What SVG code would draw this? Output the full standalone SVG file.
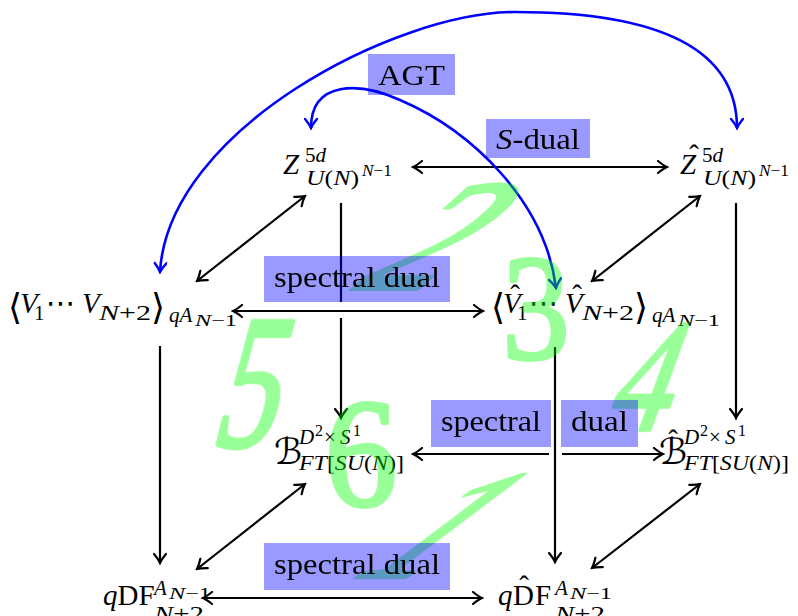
<svg xmlns="http://www.w3.org/2000/svg" width="798" height="616" viewBox="0 0 798 616">
<defs>
<marker id="a" viewBox="-11 -7 13 14" refX="0" refY="0" markerWidth="13" markerHeight="14" markerUnits="userSpaceOnUse" orient="auto-start-reverse">
<path d="M-9,-6 Q-3.5,-1.5 0,0 Q-3.5,1.5 -9,6" fill="none" stroke="#000" stroke-width="2.2" stroke-linecap="round"/>
</marker>
<marker id="ab" viewBox="-11 -7 13 14" refX="0" refY="0" markerWidth="13" markerHeight="14" markerUnits="userSpaceOnUse" orient="auto-start-reverse">
<path d="M-9,-6 Q-3.5,-1.5 0,0 Q-3.5,1.5 -9,6" fill="none" stroke="#0000ff" stroke-width="2.4" stroke-linecap="round"/>
</marker>
<style>
.ln{fill:none;stroke:#000;stroke-width:2.2}
.bl{fill:none;stroke:#0000ff;stroke-width:2.6}
.m{font-family:"Liberation Serif",serif;font-size:29px;fill:#000}
.s{font-size:21px}
.ss{font-size:16px}
.i{font-style:italic}
.sym{font-family:"DejaVu Serif","DejaVu Sans",serif}
.br{font-size:36px}
.cal{font-size:36px}
.hat{font-family:"Liberation Serif",serif;font-size:29px;text-anchor:middle}
.box{fill:#0000ff;fill-opacity:0.4}
.lab{font-family:"Liberation Serif",serif;font-size:30px;text-anchor:middle;fill:#000}
.g{font-family:"Liberation Serif",serif;font-size:100px;fill:#00ff00;stroke:#00ff00;stroke-width:2.5;stroke-linejoin:round;text-anchor:middle}
</style>
</defs>
<rect width="798" height="616" fill="#fff"/>

<g id="connectors">
<path class="ln" d="M413,167H667" marker-start="url(#a)" marker-end="url(#a)"/>
<path class="ln" d="M305,196L197,281" marker-start="url(#a)" marker-end="url(#a)"/>
<path class="ln" d="M700,196L592,281" marker-start="url(#a)" marker-end="url(#a)"/>
<path class="ln" d="M233,311H483" marker-start="url(#a)" marker-end="url(#a)"/>
<path class="ln" d="M341,203V302"/>
<path class="ln" d="M341,318V418" marker-end="url(#a)"/>
<path class="ln" d="M736,203V418" marker-end="url(#a)"/>
<path class="ln" d="M160,346V563" marker-end="url(#a)"/>
<path class="ln" d="M555,347V562" marker-end="url(#a)"/>
<path class="ln" d="M549,454H413" marker-end="url(#a)"/>
<path class="ln" d="M562,454H663" marker-end="url(#a)"/>
<path class="ln" d="M305,484L197,569" marker-start="url(#a)" marker-end="url(#a)"/>
<path class="ln" d="M700,484L592,568" marker-start="url(#a)" marker-end="url(#a)"/>
<path class="ln" d="M203,598H482" marker-start="url(#a)" marker-end="url(#a)"/>
<path class="bl" d="M160,272C168,130 395,12 515,12C640,12 737,40 737,128" marker-start="url(#ab)" marker-end="url(#ab)"/>
<path class="bl" d="M311,128C311,80 360,82 400,100C470,130 545,200 556,288" marker-start="url(#ab)" marker-end="url(#ab)"/>
</g>

<g id="node-z">
<text class="m i" x="283" y="174">Z</text>
<text class="m s" x="305" y="162">5<tspan class="i">d</tspan></text>
<text class="m s" x="306" y="185" textLength="53" lengthAdjust="spacingAndGlyphs"><tspan class="i">U</tspan>(<tspan class="i">N</tspan>)</text>
<text class="m ss" x="362" y="176" textLength="30" lengthAdjust="spacingAndGlyphs"><tspan class="i">N</tspan>−1</text>
</g>

<g id="node-zhat">
<text class="m i" x="680" y="174">Z</text>
<text class="hat" x="694" y="165">ˆ</text>
<text class="m s" x="702" y="162">5<tspan class="i">d</tspan></text>
<text class="m s" x="703" y="185" textLength="53" lengthAdjust="spacingAndGlyphs"><tspan class="i">U</tspan>(<tspan class="i">N</tspan>)</text>
<text class="m ss" x="759" y="176" textLength="30" lengthAdjust="spacingAndGlyphs"><tspan class="i">N</tspan>−1</text>
</g>

<g id="node-v">
<text class="m sym br" x="8" y="319">⟨</text>
<text class="m i" x="20" y="313">V</text>
<text class="m s" x="34" y="320">1</text>
<text class="m sym" x="46" y="313">⋯</text>
<text class="m i" x="82" y="313">V</text>
<text class="m s" x="99" y="320" textLength="52" lengthAdjust="spacingAndGlyphs"><tspan class="i">N</tspan>+2</text>
<text class="m sym br" x="151" y="319">⟩</text>
<text class="m s i" x="169" y="322">qA</text>
<text class="m ss" x="195" y="326" textLength="42" lengthAdjust="spacingAndGlyphs"><tspan class="i">N</tspan>−1</text>
</g>

<g id="node-vhat">
<text class="m sym br" x="491" y="319">⟨</text>
<text class="m i" x="503" y="313">V</text>
<text class="hat" x="515" y="305">ˆ</text>
<text class="m s" x="517" y="320">1</text>
<text class="m sym" x="529" y="313">⋯</text>
<text class="m i" x="565" y="313">V</text>
<text class="hat" x="577" y="305">ˆ</text>
<text class="m s" x="582" y="320" textLength="52" lengthAdjust="spacingAndGlyphs"><tspan class="i">N</tspan>+2</text>
<text class="m sym br" x="634" y="319">⟩</text>
<text class="m s i" x="652" y="322">qA</text>
<text class="m ss" x="678" y="326" textLength="42" lengthAdjust="spacingAndGlyphs"><tspan class="i">N</tspan>−1</text>
</g>

<g id="node-b">
<text class="m sym cal" x="274" y="464">ℬ</text>
<text class="m s i" x="299" y="444">D</text>
<text class="m ss" x="315" y="436">2</text>
<text class="m s" x="324" y="444">×</text>
<text class="m s i" x="340" y="444">S</text>
<text class="m ss" x="353" y="436">1</text>
<text class="m s" x="299" y="470" textLength="105" lengthAdjust="spacingAndGlyphs"><tspan class="i">FT</tspan>[<tspan class="i">SU</tspan>(<tspan class="i">N</tspan>)]</text>
</g>

<g id="node-bhat">
<text class="m sym cal" x="659" y="464">ℬ</text>
<text class="hat" x="673" y="450">ˆ</text>
<text class="m s i" x="684" y="444">D</text>
<text class="m ss" x="700" y="436">2</text>
<text class="m s" x="709" y="444">×</text>
<text class="m s i" x="725" y="444">S</text>
<text class="m ss" x="738" y="436">1</text>
<text class="m s" x="684" y="470" textLength="105" lengthAdjust="spacingAndGlyphs"><tspan class="i">FT</tspan>[<tspan class="i">SU</tspan>(<tspan class="i">N</tspan>)]</text>
</g>

<g id="node-qdf">
<text class="m" x="103" y="605"><tspan class="i">q</tspan>DF</text>
<text class="m s i" x="154" y="595">A</text>
<text class="m ss" x="169" y="599" textLength="42" lengthAdjust="spacingAndGlyphs"><tspan class="i">N</tspan>−1</text>
<text class="m s" x="154" y="621" textLength="50" lengthAdjust="spacingAndGlyphs"><tspan class="i">N</tspan>+2</text>
</g>

<g id="node-qdfhat">
<text class="m i" x="498" y="605">q</text>
<text class="m" x="513" y="605">D</text>
<text class="hat" x="524" y="596">ˆ</text>
<text class="m" x="535" y="605">F</text>
<text class="m s i" x="555" y="595">A</text>
<text class="m ss" x="570" y="599" textLength="42" lengthAdjust="spacingAndGlyphs"><tspan class="i">N</tspan>−1</text>
<text class="m s" x="555" y="621" textLength="50" lengthAdjust="spacingAndGlyphs"><tspan class="i">N</tspan>+2</text>
</g>

<g id="numbers" opacity="0.4">
<text class="g" transform="translate(380,577) skewX(-53) scale(1.45,1.55)">1</text>
<text class="g" transform="translate(386,289) skewX(-48) scale(1.65,1.58)">2</text>
<text class="g" transform="translate(536,359) scale(1.35,1.5)">3</text>
<text class="g" transform="translate(633,429) skewX(-20) scale(1.2,1.6)">4</text>
<text class="g" transform="translate(240,446) skewX(-15) scale(1.25,1.9)">5</text>
<text class="g" transform="translate(361,505) scale(1.45,1.55)">6</text>
</g>

<g id="labels">
<rect class="box" x="368" y="54" width="87" height="41"/>
<text class="lab" x="411.5" y="85" textLength="67" lengthAdjust="spacingAndGlyphs">AGT</text>
<rect class="box" x="486" y="119" width="104" height="39"/>
<text class="lab" x="538" y="149" textLength="84" lengthAdjust="spacingAndGlyphs"><tspan class="i">S</tspan>-dual</text>
<rect class="box" x="264" y="256" width="186" height="46"/>
<text class="lab" x="357" y="287" textLength="166" lengthAdjust="spacingAndGlyphs">spectral dual</text>
<rect class="box" x="431" y="400" width="120" height="47"/>
<text class="lab" x="491" y="431" textLength="100" lengthAdjust="spacingAndGlyphs">spectral</text>
<rect class="box" x="561" y="400" width="77" height="47"/>
<text class="lab" x="599.5" y="431" textLength="57" lengthAdjust="spacingAndGlyphs">dual</text>
<rect class="box" x="264" y="543" width="186" height="47"/>
<text class="lab" x="357" y="574" textLength="166" lengthAdjust="spacingAndGlyphs">spectral dual</text>
</g>
</svg>
